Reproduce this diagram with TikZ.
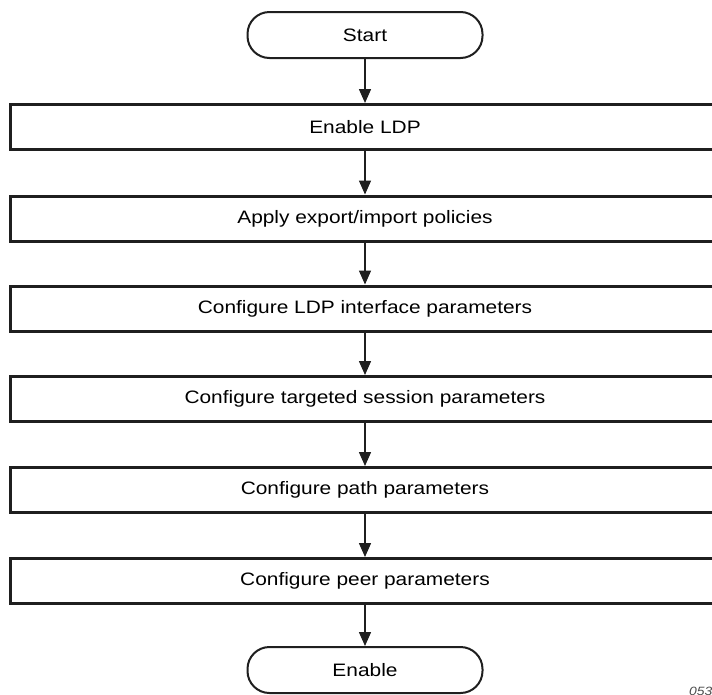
\documentclass[tikz,border=0pt]{standalone}
\usepackage{fontspec}
\setmainfont{Liberation Sans}[FakeStretch=1.16]
\usetikzlibrary{arrows.meta}
\begin{document}
\begin{tikzpicture}[x=1pt,y=-1pt,
  stepbox/.style={draw=black!88, line width=3pt, minimum width=710pt, minimum height=45pt, inner sep=0pt, font=\fontsize{18}{21}\selectfont},
  term/.style={draw=black!88, line width=2pt, rounded corners=22pt, minimum width=235pt, minimum height=46pt, inner sep=0pt, font=\fontsize{18}{21}\selectfont},
  flow/.style={draw=black!88, line width=1.5pt, -{Triangle[length=14pt,width=12pt]}}]
\useasboundingbox (0,0) rectangle (712,694);
\node[term] (start) at (365,35) {Start};
\node[stepbox] (b1) at (365,127) {Enable LDP};
\node[stepbox] (b2) at (365,218.5) {Apply export/import policies};
\node[stepbox] (b3) at (365,308.5) {Configure LDP interface parameters};
\node[stepbox] (b4) at (365,399) {Configure targeted session parameters};
\node[stepbox] (b5) at (365,490) {Configure path parameters};
\node[stepbox] (b6) at (365,581) {Configure peer parameters};
\node[term] (end) at (365,670) {Enable};
\draw[flow] (start) -- (b1);
\draw[flow] (b1) -- (b2);
\draw[flow] (b2) -- (b3);
\draw[flow] (b3) -- (b4);
\draw[flow] (b4) -- (b5);
\draw[flow] (b5) -- (b6);
\draw[flow] (b6) -- (end);
\begin{scope}
\clip (0,0) rectangle (712,694);
\node[anchor=north west, inner sep=0pt, font=\fontsize{12}{13}\selectfont\itshape, text=black!70] (fig) at (689,687) {0538};
\end{scope}
\end{tikzpicture}
\end{document}
